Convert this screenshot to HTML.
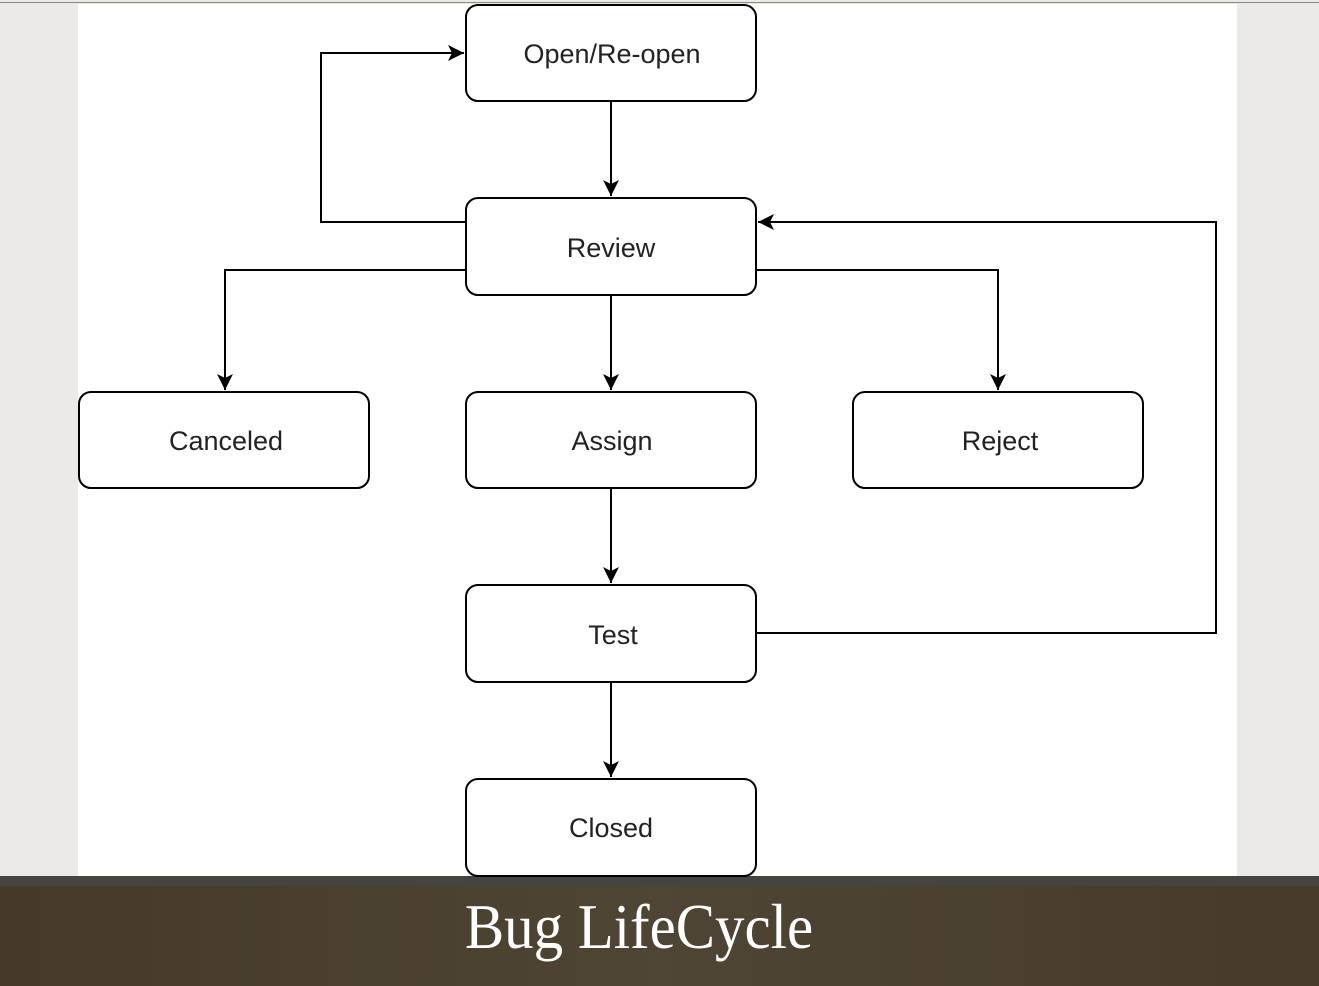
<!DOCTYPE html>
<html><head><style>
body{margin:0;width:1319px;height:986px;overflow:hidden;background:#ebeae6;position:relative;font-family:"Liberation Sans",sans-serif}
.top{position:absolute;left:0;top:2px;width:1319px;height:1px;background:#888}
.panel{position:absolute;left:78px;top:4px;width:1159px;height:872px;background:#fff}
.band{position:absolute;left:0;top:876px;width:1319px;height:10px;background:#464441}
.foot{position:absolute;left:0;top:886px;width:1319px;height:100px;background:linear-gradient(90deg,#45392a,#4e4535 50%,#463a2b)}
svg{position:absolute;left:0;top:0}
</style></head><body>
<div class="top"></div><div class="panel"></div>
<div class="band"></div><div class="foot"></div>
<svg width="1319" height="986">
<defs><marker id="a" markerWidth="18" markerHeight="16" refX="16" refY="8" orient="auto" markerUnits="userSpaceOnUse"><path d="M0,0 L16,8 L0,16 L4,8 z" fill="#000"/></marker></defs>
<g fill="#fff" stroke="#000" stroke-width="2">
<rect x="466" y="5" width="290" height="96" rx="12"/>
<rect x="466" y="198" width="290" height="97" rx="12"/>
<rect x="79" y="392" width="290" height="96" rx="12"/>
<rect x="466" y="392" width="290" height="96" rx="12"/>
<rect x="853" y="392" width="290" height="96" rx="12"/>
<rect x="466" y="585" width="290" height="97" rx="12"/>
<rect x="466" y="779" width="290" height="97" rx="12"/>
</g>
<g fill="none" stroke="#000" stroke-width="2" marker-end="url(#a)">
<path d="M611 101 V196"/>
<path d="M466 222 H321 V53 H464"/>
<path d="M466 270 H225 V390"/>
<path d="M756 270 H998 V390"/>
<path d="M611 295 V390"/>
<path d="M611 488 V583"/>
<path d="M611 682 V777"/>
<path d="M756 633 H1216 V222 H758"/>
</g>
<g font-size="27" fill="#222" text-anchor="middle" font-family="Liberation Sans,sans-serif">
<text x="612" y="63">Open/Re-open</text>
<text x="611" y="257">Review</text>
<text x="226" y="450">Canceled</text>
<text x="612" y="450">Assign</text>
<text x="1000" y="450">Reject</text>
<text x="613" y="644">Test</text>
<text x="611" y="837">Closed</text>
</g>
<text x="639" y="948" text-anchor="middle" fill="#fff" font-family="Liberation Serif,serif" font-size="64" transform="translate(639 0) scale(0.92 1) translate(-639 0)">Bug LifeCycle</text>
</svg>
</body></html>
